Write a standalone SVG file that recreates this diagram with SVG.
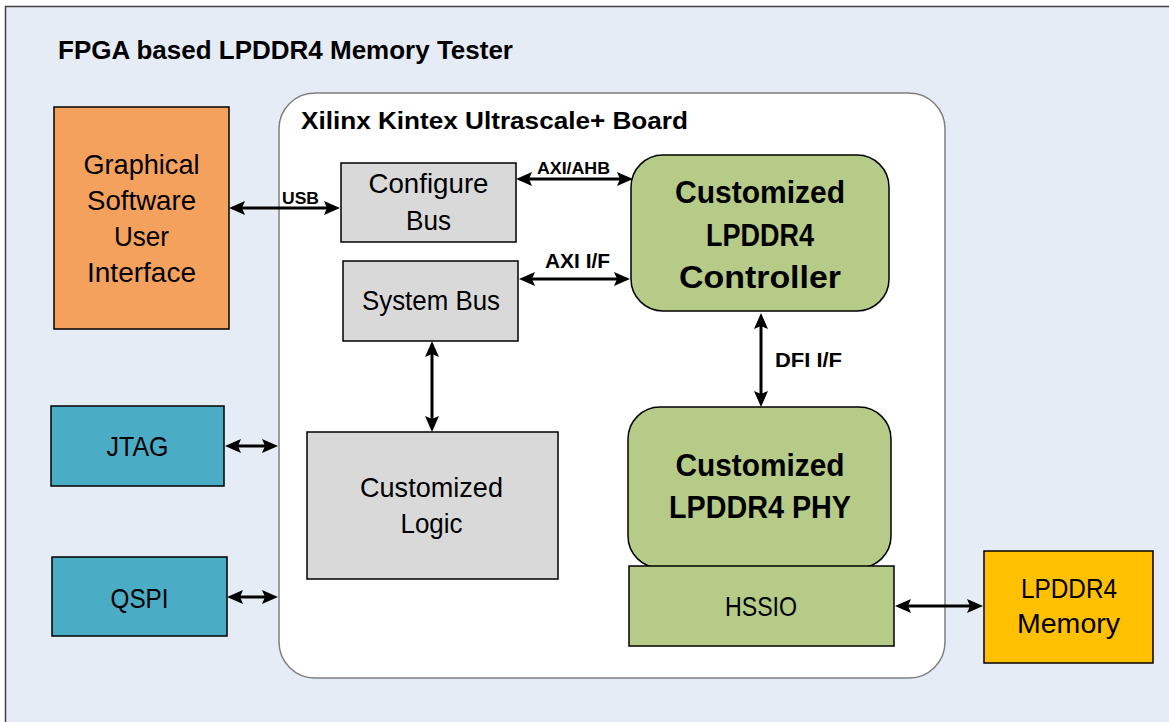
<svg xmlns="http://www.w3.org/2000/svg" width="1169" height="722" viewBox="0 0 1169 722">
<style>
.t{font-family:"Liberation Sans",Arial,sans-serif;fill:#000;text-anchor:middle}
.n{font-size:27.5px}
.b{font-weight:bold}
.box{stroke:#000;stroke-width:1.5}
.con{stroke:#000;stroke-width:3;fill:none;marker-start:url(#ah);marker-end:url(#ah)}
</style>
<defs>
<marker id="ah" markerUnits="userSpaceOnUse" markerWidth="16" markerHeight="16" viewBox="0 0 16 16" refX="10" refY="8" orient="auto-start-reverse">
<path d="M0,1 L16,8 L0,15 L3,8 z" fill="#000"/>
</marker>
</defs>
<rect x="5.5" y="6.5" width="1180" height="730" fill="#E6ECF6" stroke="#404040" stroke-width="1.5"/>
<text class="t b" x="58" y="59" font-size="26" style="text-anchor:start" textLength="455" lengthAdjust="spacingAndGlyphs">FPGA based LPDDR4 Memory Tester</text>

<g id="board">
<rect x="279" y="93" width="666" height="585" rx="36" fill="#FFFFFF" stroke="#7F7F7F" stroke-width="1.5"/>
<text class="t b" x="301" y="129" font-size="24" style="text-anchor:start" textLength="387" lengthAdjust="spacingAndGlyphs">Xilinx Kintex Ultrascale+ Board</text>
</g>

<g id="gui">
<rect class="box" x="54" y="107" width="175" height="222" fill="#F4A15D"/>
<text class="t n" x="141.5" y="174" textLength="116" lengthAdjust="spacingAndGlyphs">Graphical</text>
<text class="t n" x="141.5" y="210" textLength="109" lengthAdjust="spacingAndGlyphs">Software</text>
<text class="t n" x="141.5" y="246" textLength="55" lengthAdjust="spacingAndGlyphs">User</text>
<text class="t n" x="141.5" y="282" textLength="109" lengthAdjust="spacingAndGlyphs">Interface</text>
</g>

<g id="jtag">
<rect class="box" x="51" y="406" width="173" height="80" fill="#4BACC6"/>
<text class="t n" x="137.5" y="456" textLength="62" lengthAdjust="spacingAndGlyphs">JTAG</text>
</g>

<g id="qspi">
<rect class="box" x="52" y="557" width="175" height="79" fill="#4BACC6"/>
<text class="t n" x="139.5" y="608" textLength="58" lengthAdjust="spacingAndGlyphs">QSPI</text>
</g>

<g id="configure-bus">
<rect class="box" x="341" y="163" width="175" height="79" fill="#D9D9D9"/>
<text class="t n" x="428.5" y="193" textLength="120" lengthAdjust="spacingAndGlyphs">Configure</text>
<text class="t n" x="428.5" y="230" textLength="45" lengthAdjust="spacingAndGlyphs">Bus</text>
</g>

<g id="system-bus">
<rect class="box" x="343" y="261" width="175" height="80" fill="#D9D9D9"/>
<text class="t n" x="431" y="310" textLength="138" lengthAdjust="spacingAndGlyphs">System Bus</text>
</g>

<g id="custom-logic">
<rect class="box" x="307" y="432" width="251" height="147" fill="#D9D9D9"/>
<text class="t n" x="431.5" y="497" textLength="143" lengthAdjust="spacingAndGlyphs">Customized</text>
<text class="t n" x="431.5" y="533" textLength="62" lengthAdjust="spacingAndGlyphs">Logic</text>
</g>

<g id="controller">
<rect class="box" x="631" y="155" width="258" height="156" rx="32" fill="#B6CB87"/>
<text class="t b" x="760" y="203" font-size="31.5" textLength="170" lengthAdjust="spacingAndGlyphs">Customized</text>
<text class="t b" x="760" y="246" font-size="31.5" textLength="108" lengthAdjust="spacingAndGlyphs">LPDDR4</text>
<text class="t b" x="760" y="288" font-size="31.5" textLength="162" lengthAdjust="spacingAndGlyphs">Controller</text>
</g>

<g id="phy">
<rect class="box" x="628" y="407" width="263" height="161" rx="32" fill="#B6CB87"/>
<text class="t b" x="760" y="476" font-size="31.5" textLength="169" lengthAdjust="spacingAndGlyphs">Customized</text>
<text class="t b" x="760" y="518" font-size="31.5" textLength="182" lengthAdjust="spacingAndGlyphs">LPDDR4 PHY</text>
</g>

<g id="hssio">
<rect class="box" x="629" y="566" width="265" height="80" fill="#B6CB87"/>
<text class="t n" x="761" y="616" textLength="72" lengthAdjust="spacingAndGlyphs">HSSIO</text>
</g>

<g id="lpddr4-memory">
<rect class="box" x="984" y="551" width="169" height="112" fill="#FFC000"/>
<text class="t n" x="1069" y="598" textLength="96" lengthAdjust="spacingAndGlyphs">LPDDR4</text>
<text class="t n" x="1068.5" y="633" textLength="103" lengthAdjust="spacingAndGlyphs">Memory</text>
</g>

<g id="connectors">
<line class="con" x1="235" y1="208" x2="334" y2="208"/>
<line class="con" x1="522" y1="179" x2="627" y2="179"/>
<line class="con" x1="525" y1="279" x2="624" y2="279"/>
<line class="con" x1="432" y1="347" x2="432" y2="426"/>
<line class="con" x1="761" y1="319" x2="761" y2="401"/>
<line class="con" x1="231" y1="446" x2="272" y2="446"/>
<line class="con" x1="233" y1="597" x2="272" y2="597"/>
<line class="con" x1="901" y1="606" x2="977" y2="606"/>
<text class="t b" x="300.5" y="204" font-size="17" textLength="37" lengthAdjust="spacingAndGlyphs">USB</text>
<text class="t b" x="573.5" y="174" font-size="16" textLength="73" lengthAdjust="spacingAndGlyphs">AXI/AHB</text>
<text class="t b" x="577.5" y="268" font-size="20" textLength="65" lengthAdjust="spacingAndGlyphs">AXI I/F</text>
<text class="t b" x="808.5" y="367" font-size="21" textLength="67" lengthAdjust="spacingAndGlyphs">DFI I/F</text>
</g>
</svg>
